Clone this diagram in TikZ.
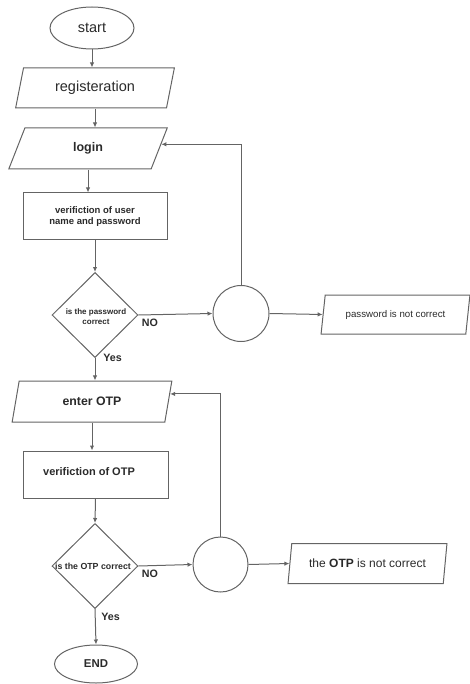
\documentclass[tikz,border=0pt]{standalone}
\usepackage{fontspec}
\setmainfont{Liberation Sans}
\usetikzlibrary{shapes.geometric,arrows.meta,calc}
\definecolor{edge}{HTML}{646464}
\definecolor{ink}{HTML}{2A2A2A}
\newcommand\fsz[2]{\fontsize{#1}{#2}\selectfont}
\begin{document}
\begin{tikzpicture}[x=1pt,y=-1pt,
  every node/.style={text=ink, inner sep=0pt},
  base/.style={draw=edge, line width=1pt},
  term/.style={base, ellipse},
  io/.style={base, trapezium, trapezium left angle=72, trapezium right angle=108, trapezium stretches=true},
  proc/.style={base, rectangle},
  dec/.style={base, diamond, minimum width=86pt, minimum height=85pt},
  junc/.style={base, circle},
  arr/.style={draw=edge, line width=1pt, -{Latex[length=5pt,width=4.5pt]}},
  lbl/.style={font=\bfseries\fsz{10.7}{12}}
]
\useasboundingbox (0,0) rectangle (470,684);

% --- login part ---
\node[term, minimum width=84pt, minimum height=42pt, font=\fsz{14.5}{17}] (start) at (92,28) {start};
\node[io, minimum width=160pt, minimum height=40pt, font=\fsz{14.5}{17}] (reg) at (95,88) {registeration};
\node[io, minimum width=159pt, minimum height=41pt, font=\bfseries\fsz{12.5}{15}] (login) at (88,148.5) {login};
\node[proc, minimum width=144pt, minimum height=47pt, align=center, font=\bfseries\fsz{9.5}{11.5}] (ver1) at (95,216.5) {verifiction of user\\name and password};
\node[dec] (d1) at (95,315) {};
\node[align=center, font=\bfseries\fsz{8}{10}] (d1text) at (96,317) {is the password\\correct};
\node[junc, minimum size=56pt] (c1) at (241,313.5) {};
\node[io, minimum width=149pt, minimum height=39pt, font=\fsz{9.7}{12}] (pw) at (395.5,314.5) {password is not correct};

% --- OTP part ---
\node[io, minimum width=160pt, minimum height=41pt, font=\bfseries\fsz{12.3}{15}] (otp) at (92,401.5) {enter OTP};
\node[proc, minimum width=145pt, minimum height=47pt] (ver2) at (95.5,474.5) {};
\node[font=\bfseries\fsz{11}{13}] (ver2text) at (89,472) {verifiction of OTP};
\node[dec] (d2) at (95,566) {};
\node[font=\bfseries\fsz{8.8}{10}] (d2text) at (93,566.5) {is the OTP correct};
\node[junc, minimum size=55pt] (c2) at (220.5,564.5) {};
\node[io, minimum width=159pt, minimum height=40pt, font=\fsz{12}{14}] (notp) at (367.5,563.5) {the \textbf{OTP} is not correct};
\node[term, minimum width=83pt, minimum height=38pt, font=\bfseries\fsz{11.4}{13}] (end) at (96,664) {END};

% --- branch labels ---
\node[lbl] (no1) at (150,323) {NO};
\node[lbl] (yes1) at (112.5,357.5) {Yes};
\node[lbl] (no2) at (150,574) {NO};
\node[lbl] (yes2) at (110.5,617) {Yes};

% --- connectors ---
\draw[arr] (start.south) -- (start.south |- reg.north);
\draw[arr] (reg.south) -- (reg.south |- login.north);
\draw[arr] (login.south) -- (login.south |- ver1.north);
\draw[arr] (ver1.south) -- (d1.north);
\draw[arr] (d1.east) -- (c1.west);
\draw[arr] (c1.north) |- ($(login.top right corner)!0.4!(login.bottom right corner)$);
\draw[arr] (c1.east) -- (pw.west);
\draw[arr] (d1.south) -- (d1.south |- otp.north);
\draw[arr] (otp.south) -- (otp.south |- ver2.north);
\draw[arr] (ver2.south) -- (d2.north);
\draw[arr] (d2.east) -- (c2.west);
\draw[arr] (c2.north) |- ($(otp.top right corner)!0.32!(otp.bottom right corner)$);
\draw[arr] (c2.east) -- (notp.west);
\draw[arr] (d2.south) -- (end.north);
\end{tikzpicture}
\end{document}
